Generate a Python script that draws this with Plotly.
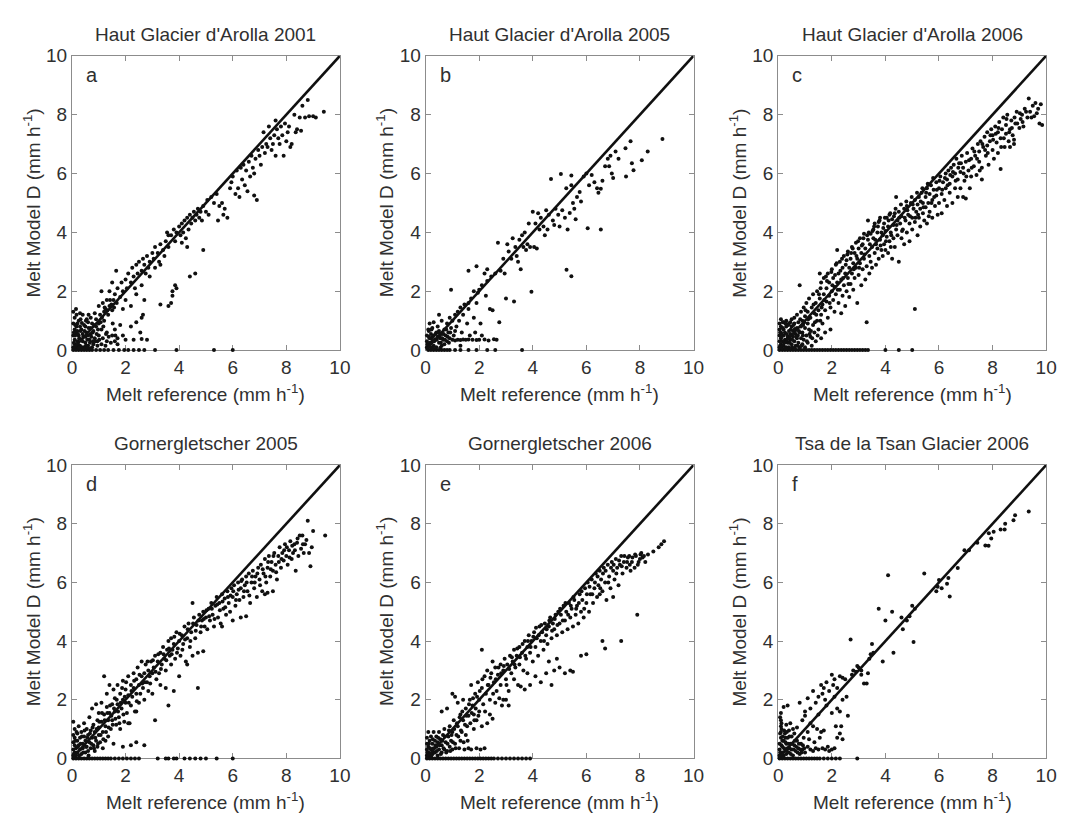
import plotly.graph_objects as go

# ---------------- data (Melt reference, Melt Model D) ----------------
TITLES = ["Haut Glacier d'Arolla 2001", "Haut Glacier d'Arolla 2005", "Haut Glacier d'Arolla 2006",
          "Gornergletscher 2005", "Gornergletscher 2006", "Tsa de la Tsan Glacier 2006"]
LETTERS = ["a", "b", "c", "d", "e", "f"]
TICKS = [0, 2, 4, 6, 8, 10]
ONE_TO_ONE = [0, 10]

a_zero_x = [0.05, 0.15, 0.25, 0.35, 0.45, 0.55, 0.65, 0.75, 0.9, 1.05, 1.2, 1.35, 1.55, 1.75, 1.95,
            2.1, 2.3, 2.5, 2.7, 3.1, 3.9, 5.3, 6.0]
a_pts = [
    (0.05, 0.1), (0.1, 0.2), (0.1, 0.35), (0.05, 0.5), (0.1, 0.7), (0.05, 0.9), (0.1, 1.1), (0.05, 1.3),
    (0.15, 1.4), (0.2, 0.1), (0.2, 0.3), (0.25, 0.5), (0.2, 0.65), (0.3, 0.8), (0.25, 1.0), (0.3, 0.15),
    (0.35, 0.35), (0.4, 0.55), (0.35, 0.7), (0.4, 1.2), (0.45, 0.1), (0.5, 0.25), (0.5, 0.45), (0.55, 0.6),
    (0.5, 0.8), (0.6, 0.95), (0.6, 0.15), (0.65, 0.35), (0.7, 0.55), (0.7, 0.75), (0.75, 0.9), (0.8, 0.2),
    (0.85, 0.4), (0.8, 0.65), (0.9, 0.8), (0.9, 1.05), (0.95, 0.3), (1.0, 0.5), (1.0, 0.9), (1.05, 1.2),
    (1.1, 0.2), (1.15, 0.4), (1.2, 1.0), (1.2, 1.3), (1.3, 0.3), (1.35, 1.2), (1.4, 1.5), (1.45, 0.25),
    (1.5, 1.35), (1.6, 0.3), (1.55, 1.7), (1.7, 0.2), (0.15, 0.05), (0.3, 0.05), (0.4, 0.3), (0.6, 0.5),
    (0.15, 0.6), (0.3, 1.25), (0.7, 1.1), (0.85, 1.25), (1.0, 1.5), (0.55, 1.05), (0.2, 0.9), (0.45, 0.85),
    (1.25, 0.15), (0.95, 0.15), (0.75, 0.1),
    (1.6, 1.9), (1.7, 2.1), (1.8, 1.8), (1.85, 2.3), (1.9, 2.0), (2.0, 2.4), (2.05, 2.1), (2.1, 2.6),
    (2.2, 2.3), (2.25, 2.8), (2.3, 2.5), (2.4, 2.9), (2.45, 2.6), (2.5, 3.0), (2.6, 2.7), (2.65, 3.1),
    (2.7, 2.9), (2.8, 3.2), (2.85, 2.8), (2.9, 3.0), (3.0, 3.3), (3.05, 3.1), (3.1, 3.5), (3.2, 3.3),
    (3.25, 3.0), (3.3, 3.6), (3.4, 3.4), (3.5, 3.7), (3.45, 3.2), (3.6, 3.9), (3.55, 4.0), (1.3, 1.7),
    (1.4, 2.0), (1.5, 2.3), (1.65, 2.7), (1.15, 1.6), (1.1, 2.0), (1.25, 1.4), (2.0, 1.7), (2.2, 1.5),
    (2.4, 1.9), (2.6, 2.2), (2.35, 2.1), (2.75, 2.6), (1.9, 1.4), (2.7, 1.7), (2.9, 2.5), (3.1, 2.8),
    (3.3, 2.9), (1.8, 0.85), (2.2, 0.8), (2.4, 0.95), (2.6, 1.1), (2.55, 0.6), (2.0, 0.35), (2.3, 0.35),
    (2.6, 0.38), (2.8, 0.35), (1.7, 0.4), (1.5, 0.5), (1.9, 0.5), (1.3, 0.6), (1.6, 0.7), (1.1, 0.7),
    (3.7, 3.9), (3.8, 4.1), (3.85, 3.7), (3.9, 4.0), (4.0, 4.2), (4.05, 3.9), (4.1, 4.3), (4.15, 4.0),
    (4.2, 4.4), (4.25, 3.8), (4.3, 4.5), (4.35, 4.1), (4.4, 4.6), (4.45, 4.3), (4.5, 4.5), (4.55, 4.7),
    (4.6, 4.4), (4.65, 4.6), (4.7, 4.8), (4.75, 4.5), (4.8, 4.7), (4.85, 4.4), (4.9, 4.9), (5.0, 4.7),
    (5.05, 5.1), (5.1, 4.6), (5.2, 5.2), (5.3, 5.0), (5.4, 5.3), (5.5, 4.9), (5.6, 5.0), (5.7, 4.8),
    (5.8, 4.5), (5.65, 4.6), (5.45, 4.4), (5.9, 5.5), (4.3, 3.5), (4.1, 3.65), (3.6, 3.5), (4.9, 3.4),
    (4.4, 2.5), (4.6, 2.6), (3.6, 1.5), (3.7, 1.6), (3.75, 1.85), (3.9, 2.1), (3.75, 2.0), (3.85, 2.2),
    (3.3, 1.55), (2.65, 1.2),
    (6.0, 5.9), (6.1, 5.3), (6.15, 6.1), (6.2, 5.5), (6.3, 6.2), (6.35, 5.8), (6.4, 6.3), (6.45, 5.6),
    (6.5, 6.1), (6.55, 5.4), (6.6, 6.4), (6.65, 5.9), (6.7, 6.6), (6.75, 6.2), (6.8, 6.0), (6.85, 6.5),
    (6.9, 5.1), (6.8, 5.25), (6.95, 6.8), (7.0, 6.6), (7.05, 6.3), (7.1, 6.9), (7.2, 6.7), (7.25, 7.0),
    (7.3, 6.9), (7.4, 7.2), (7.45, 6.8), (7.5, 7.0), (7.55, 7.3), (7.6, 6.6), (7.65, 7.5), (7.7, 7.2),
    (7.75, 7.0), (7.8, 7.6), (7.85, 7.3), (7.9, 6.6), (7.95, 7.7), (8.0, 7.1), (8.05, 7.4), (8.1, 7.6),
    (8.15, 6.9), (8.2, 7.0), (8.3, 8.0), (8.35, 7.4), (8.4, 7.5), (8.5, 7.9), (8.55, 7.45), (8.6, 8.3),
    (8.7, 7.9), (8.8, 8.5), (8.85, 7.95), (9.0, 7.95), (9.1, 7.9), (9.4, 8.1), (7.35, 7.6), (7.6, 7.8),
    (5.95, 5.7), (6.25, 5.2), (7.15, 7.4),
]
a_core = [
    (0.07, 0.25), (0.12, 0.5), (0.17, 0.8), (0.22, 0.2), (0.27, 0.4), (0.32, 0.65), (0.37, 0.1),
    (0.42, 0.45), (0.47, 0.65), (0.52, 0.15), (0.57, 0.35), (0.62, 0.75), (0.67, 0.25), (0.72, 0.45),
    (0.77, 0.6), (0.82, 0.85), (0.87, 0.3), (0.92, 0.55), (0.97, 0.7), (1.02, 0.35), (1.07, 0.95),
    (1.12, 1.1), (1.17, 0.8), (1.22, 1.45), (1.27, 0.55), (1.32, 1.35), (1.37, 0.45), (1.42, 1.7),
    (1.47, 1.55), (1.52, 0.9), (1.57, 1.45), (1.62, 0.5), (1.67, 1.6), (0.07, 0.6), (0.12, 0.85),
    (0.17, 1.2), (0.32, 1.05), (0.42, 0.05), (0.52, 1.0), (0.62, 1.2), (0.08, 0.05), (0.25, 0.08),
    (0.48, 0.05), (0.58, 0.08), (0.68, 0.05), (0.22, 0.55), (0.37, 0.92), (0.78, 0.3),
]

b_zero_x = [0.1, 0.2, 0.3, 0.4, 0.5, 0.6, 0.7, 0.8, 0.9, 1.1, 1.3, 1.6, 1.9, 2.3, 2.6, 3.6]
b_pts = [
    (0.05, 0.1), (0.05, 0.3), (0.05, 0.5), (0.1, 0.7), (0.1, 0.2), (0.15, 0.4), (0.15, 0.9), (0.2, 0.1),
    (0.2, 0.55), (0.25, 0.3), (0.25, 0.75), (0.3, 0.15), (0.3, 0.5), (0.3, 0.95), (0.35, 0.35), (0.4, 0.6),
    (0.4, 0.1), (0.45, 0.45), (0.45, 0.8), (0.5, 0.25), (0.5, 0.65), (0.55, 0.4), (0.6, 0.15), (0.6, 0.55),
    (0.6, 1.0), (0.65, 0.35), (0.7, 0.7), (0.7, 0.2), (0.75, 0.5), (0.8, 0.9), (0.8, 0.3), (0.85, 0.6),
    (0.9, 0.4), (0.9, 1.1), (0.95, 2.05), (0.95, 0.75), (1.0, 0.35), (1.0, 1.0), (1.05, 0.5), (1.1, 1.2),
    (1.1, 0.33), (1.15, 0.8), (1.2, 1.3), (1.2, 0.35), (1.25, 1.0), (1.3, 1.45), (1.3, 0.34), (1.35, 0.6),
    (1.4, 1.2), (1.4, 0.36), (1.45, 1.55), (1.5, 0.35), (1.55, 0.9), (1.6, 1.6), (1.6, 0.36), (1.65, 0.5),
    (1.7, 1.75), (1.75, 0.35), (1.8, 2.0), (1.8, 1.1), (1.85, 0.6), (1.9, 0.34), (1.95, 1.95), (2.0, 2.05),
    (2.0, 0.35), (2.05, 0.9), (2.1, 2.2), (2.1, 0.5), (2.2, 0.36), (2.25, 1.85), (2.3, 2.35), (2.35, 0.33),
    (2.4, 1.4), (2.45, 2.5), (2.5, 1.35), (2.55, 0.37), (2.6, 2.6), (2.65, 0.35), (1.1, 0.65), (1.3, 0.15),
    (1.6, 1.4), (1.9, 1.6), (0.5, 1.2),
    (1.6, 2.7), (1.9, 2.85), (2.2, 2.6), (2.3, 2.75), (2.7, 3.65), (2.8, 2.7), (2.9, 3.1), (2.95, 2.6),
    (2.75, 0.95), (3.0, 1.75), (3.05, 3.6), (3.1, 3.35), (3.2, 3.1), (3.25, 3.8), (3.3, 1.65), (3.35, 3.5),
    (3.4, 3.2), (3.45, 3.0), (3.5, 3.75), (3.55, 2.75), (3.6, 3.9), (3.65, 3.5), (3.7, 4.0), (3.75, 3.4),
    (3.8, 3.6), (3.85, 4.3), (3.9, 3.5), (3.95, 1.98), (4.0, 4.7), (4.05, 3.5), (4.1, 4.3), (4.15, 3.45),
    (4.2, 4.65), (4.25, 4.1), (4.3, 4.5), (4.4, 4.2), (4.45, 3.9), (4.5, 4.75), (4.55, 4.1), (4.6, 4.6),
    (4.68, 5.81), (4.75, 4.4), (4.8, 4.25), (4.85, 4.8), (4.95, 4.6), (5.0, 4.2), (5.05, 5.98), (5.1, 4.75),
    (5.2, 4.5), (5.25, 5.5), (5.3, 4.1), (5.26, 2.73), (5.44, 2.51), (5.38, 4.66), (5.44, 5.93), (5.44, 5.6),
    (5.5, 5.0), (5.55, 4.8), (5.6, 4.45), (5.65, 5.2), (5.75, 5.37), (5.8, 5.05), (5.9, 5.9), (6.0, 6.0),
    (6.05, 4.14), (6.1, 5.6), (6.2, 5.95), (6.3, 5.7), (6.4, 5.5), (6.45, 5.35), (6.54, 5.48), (6.54, 4.1),
    (6.6, 5.75), (6.7, 6.25), (6.8, 6.5), (6.85, 6.25), (6.9, 6.6), (6.95, 6.0), (7.0, 5.85), (7.09, 6.75),
    (7.2, 6.5), (7.46, 6.86), (7.48, 5.9), (7.65, 7.1), (7.7, 6.35), (7.76, 6.11), (8.07, 6.45), (8.29, 6.75),
    (8.84, 7.17),
]
b_core = [
    (0.07, 0.2), (0.12, 0.45), (0.17, 0.25), (0.22, 0.7), (0.27, 0.45), (0.32, 0.3), (0.37, 0.55),
    (0.42, 0.35), (0.47, 0.6), (0.52, 0.45), (0.57, 0.25), (0.62, 0.4), (0.67, 0.55), (0.72, 0.35),
    (0.77, 0.7), (0.82, 0.45), (0.87, 0.25), (0.92, 0.6), (0.12, 0.65), (0.22, 0.4), (0.08, 0.05),
    (0.28, 0.05), (0.55, 0.08),
]

c_zero_x = [0.05, 0.15, 0.25, 0.35, 0.45, 0.55, 0.65, 0.75, 0.85, 0.95, 1.05, 1.15, 1.25, 1.35, 1.45,
            1.55, 1.65, 1.75, 1.85, 1.95, 2.05, 2.15, 2.25, 2.35, 2.45, 2.55, 2.65, 2.75, 2.85, 2.95,
            3.05, 3.15, 3.25, 3.35, 4.0, 4.5, 5.0]
c_pts = [
    (0.05, 0.1), (0.05, 0.3), (0.05, 0.5), (0.05, 0.7), (0.05, 0.9), (0.1, 1.05), (0.1, 0.2), (0.1, 0.4),
    (0.1, 0.6), (0.1, 0.8), (0.15, 0.05), (0.15, 0.3), (0.2, 0.15), (0.2, 0.5), (0.2, 0.7), (0.2, 0.95),
    (0.25, 0.35), (0.25, 0.6), (0.3, 0.1), (0.3, 0.8), (0.3, 1.0), (0.35, 0.25), (0.35, 0.45), (0.4, 0.65),
    (0.4, 0.9), (0.4, 0.1), (0.45, 0.35), (0.45, 0.55), (0.5, 0.2), (0.5, 0.8), (0.5, 1.05),
    (0.55, 0.05), (0.55, 0.45), (0.55, 0.65), (0.6, 0.3), (0.6, 0.9), (0.6, 1.1), (0.65, 0.15), (0.65, 0.55),
    (0.7, 0.75), (0.7, 0.4), (0.7, 1.2), (0.75, 0.25), (0.75, 0.95), (0.8, 0.6), (0.8, 0.1), (0.8, 2.2),
    (0.85, 0.4), (0.85, 0.8), (0.85, 1.3), (0.9, 0.2), (0.9, 1.0), (0.9, 0.6), (0.95, 1.45), (0.95, 0.35),
    (1.0, 0.75), (1.0, 1.15), (1.0, 0.1),
    (1.05, 0.5), (1.05, 1.6), (1.1, 0.9), (1.1, 1.3), (1.1, 0.25), (1.15, 0.7), (1.15, 1.75), (1.2, 1.1),
    (1.2, 0.45), (1.25, 1.45), (1.25, 0.15), (1.3, 0.85), (1.3, 1.9), (1.35, 1.25), (1.35, 0.6), (1.4, 1.6),
    (1.4, 0.3), (1.45, 1.0), (1.45, 2.0), (1.5, 1.35), (1.5, 0.7), (1.55, 1.75), (1.55, 2.6), (1.6, 1.2),
    (1.6, 0.4), (1.6, 2.3), (1.65, 1.55), (1.65, 0.9),
    (1.7, 1.9), (1.7, 2.45), (1.75, 1.35), (1.75, 0.6), (1.8, 2.1), (1.8, 1.65), (1.85, 2.6), (1.85, 1.1),
    (1.9, 1.85), (1.9, 2.3), (1.95, 1.45), (1.95, 0.7), (2.0, 2.0), (2.0, 2.75), (2.05, 1.7), (2.05, 2.45),
    (2.1, 2.15), (2.1, 1.3), (2.15, 2.9), (2.15, 1.9), (2.2, 2.3), (2.2, 3.4), (2.25, 1.6), (2.25, 2.6),
    (2.3, 2.05), (2.3, 3.0), (2.35, 2.4), (2.35, 1.25), (2.4, 2.8), (2.4, 1.85), (2.45, 3.2), (2.45, 2.2),
    (2.5, 2.6), (2.5, 1.5),
    (2.55, 3.05), (2.55, 2.0), (2.6, 2.45), (2.6, 3.35), (2.65, 2.8), (2.65, 1.8), (2.7, 3.1), (2.7, 2.25),
    (2.75, 3.5), (2.75, 2.6), (2.8, 2.95), (2.8, 2.05), (2.85, 3.3), (2.85, 2.45), (2.9, 3.65), (2.9, 2.8),
    (2.95, 3.1), (2.95, 1.6), (3.0, 3.45), (3.0, 2.55), (3.05, 2.95), (3.05, 3.8), (3.1, 3.3), (3.1, 2.2),
    (3.15, 3.6), (3.15, 2.75), (3.2, 3.1), (3.2, 3.95), (3.25, 2.4), (3.25, 3.45), (3.3, 2.85), (3.3, 0.95),
    (3.35, 3.75), (3.35, 4.4), (3.4, 3.2), (3.4, 2.6), (3.45, 3.95), (3.45, 3.0), (3.5, 3.5), (3.5, 2.8),
    (3.55, 3.8), (3.55, 4.1), (3.6, 3.3), (3.6, 4.3), (3.65, 3.6), (3.65, 2.9), (3.7, 4.0), (3.7, 3.45),
    (3.75, 4.35), (3.75, 3.1), (3.8, 3.75), (3.8, 4.5), (3.85, 3.4), (3.85, 4.0), (3.9, 3.9), (3.9, 3.2),
    (3.95, 4.3), (3.95, 3.6), (4.0, 4.05), (4.0, 3.4), (4.05, 4.5), (4.05, 3.85), (4.1, 3.3), (4.1, 4.2),
    (4.15, 4.6), (4.15, 3.7), (4.2, 4.0), (4.2, 3.5), (4.25, 4.45), (4.25, 3.1), (4.3, 4.25), (4.3, 3.8),
    (4.35, 4.65), (4.35, 3.5), (4.4, 4.1), (4.4, 5.2), (4.45, 4.4), (4.45, 3.9), (4.5, 3.0), (4.5, 4.7),
    (4.55, 4.3), (4.6, 3.8), (4.6, 4.55), (4.65, 4.1), (4.7, 4.8), (4.7, 3.6), (4.75, 4.4), (4.8, 4.0),
    (4.8, 4.9), (4.85, 4.6), (4.9, 3.7), (4.9, 4.3), (4.95, 5.0), (5.0, 4.5), (5.0, 4.1), (5.05, 4.8),
    (5.1, 1.4), (5.1, 5.1), (5.1, 4.35), (5.15, 4.7), (5.2, 3.9), (5.2, 4.95), (5.25, 5.2), (5.25, 4.5),
    (5.3, 4.8), (5.3, 4.2), (5.35, 5.35), (5.4, 4.65), (5.4, 5.0), (5.45, 4.4), (5.5, 5.2), (5.5, 4.85),
    (5.55, 4.3), (5.55, 5.5), (5.6, 5.0), (5.65, 4.7), (5.65, 5.3), (5.7, 5.6), (5.75, 4.5), (5.75, 5.1),
    (5.8, 5.45), (5.85, 4.9), (5.9, 5.7), (5.9, 5.25), (5.95, 4.6), (6.0, 5.5), (6.0, 5.0), (6.05, 5.9),
    (6.1, 5.3), (6.1, 4.65), (6.15, 5.7), (6.2, 5.1), (6.25, 6.0), (6.25, 5.5), (6.3, 4.9), (6.3, 5.8),
    (6.35, 6.1), (6.4, 5.35), (6.4, 5.65), (6.45, 6.2), (6.5, 5.0), (6.5, 5.9),
    (6.55, 6.3), (6.6, 5.5), (6.6, 6.0), (6.65, 6.5), (6.7, 5.2), (6.7, 5.8), (6.75, 6.35), (6.8, 6.05),
    (6.8, 5.5), (6.85, 6.6), (6.9, 6.2), (6.9, 5.2), (6.95, 5.75), (7.0, 6.4), (7.0, 5.15), (7.05, 6.7),
    (7.1, 6.1), (7.15, 5.5), (7.2, 6.5), (7.2, 5.9), (7.25, 6.85), (7.3, 6.25), (7.35, 6.6), (7.4, 5.95),
    (7.45, 7.0), (7.5, 6.4), (7.5, 6.75),
    (7.55, 7.1), (7.6, 6.2), (7.6, 5.8), (7.65, 6.9), (7.7, 7.25), (7.75, 6.6), (7.8, 7.4), (7.8, 6.95),
    (7.85, 6.3), (7.9, 7.1), (7.95, 7.5), (8.0, 6.8), (8.0, 7.3), (8.05, 6.5), (8.1, 7.6), (8.15, 7.05),
    (8.2, 7.4), (8.2, 6.7), (8.25, 7.75), (8.3, 7.2), (8.3, 6.15), (8.35, 7.5), (8.4, 7.9), (8.45, 6.9),
    (8.5, 7.35), (8.5, 7.65),
    (8.55, 8.0), (8.6, 7.1), (8.65, 7.5), (8.7, 7.8), (8.75, 7.3), (8.8, 7.0), (8.85, 7.7), (8.9, 8.1),
    (9.0, 7.55), (9.05, 7.85), (9.1, 8.0), (9.15, 7.6), (9.2, 8.2), (9.3, 7.9), (9.35, 8.55), (9.4, 8.1),
    (9.5, 8.3), (9.55, 7.95), (9.6, 8.4), (9.7, 8.2), (9.75, 7.7), (9.8, 8.35), (9.85, 7.65), (8.65, 6.9),
    (8.8, 7.15),
]
c_core = [
    (0.12, 0.55), (0.27, 0.9), (0.38, 0.45), (0.52, 0.35), (0.62, 0.72), (0.73, 0.5), (0.82, 1.05),
    (0.93, 0.85), (1.02, 1.35), (1.12, 1.05), (1.22, 0.65), (1.32, 1.55), (1.42, 1.2), (1.52, 1.9),
    (1.62, 1.45), (1.72, 1.7), (1.82, 2.35), (1.92, 1.6), (2.02, 2.2), (2.12, 2.55), (2.22, 2.05),
    (2.32, 2.7), (2.42, 2.45), (2.52, 2.9), (2.62, 2.25), (2.72, 3.3), (2.82, 2.75), (2.92, 3.2),
    (3.02, 2.8), (3.12, 3.55), (3.22, 3.25), (3.32, 3.9), (3.42, 3.6), (3.52, 4.05), (3.62, 3.75),
    (3.72, 4.2), (3.82, 3.55), (3.92, 4.15), (4.02, 3.7), (4.12, 4.4), (4.22, 3.9), (4.32, 4.55),
    (4.42, 4.25), (4.52, 4.5), (4.62, 4.05), (4.72, 4.5), (4.82, 4.75), (4.92, 4.55), (5.02, 4.95),
    (5.12, 4.5), (5.22, 4.6), (5.32, 5.05), (5.42, 4.85), (5.52, 5.35), (5.62, 4.55), (5.72, 5.0),
    (5.82, 5.2), (5.92, 5.45), (6.02, 5.75), (6.12, 5.45), (6.22, 5.85), (6.32, 5.6), (6.42, 5.95),
    (6.52, 6.05), (6.62, 5.75), (6.72, 6.2), (6.82, 6.35), (6.92, 6.0), (7.02, 5.9), (7.12, 6.45),
    (7.22, 6.2), (7.32, 6.75), (7.42, 6.5), (7.52, 6.1), (7.62, 7.0), (7.72, 6.8), (7.82, 6.7),
    (7.92, 7.3), (8.02, 7.15), (8.12, 7.35), (8.22, 7.55), (8.32, 6.9), (8.42, 7.2), (8.52, 7.85),
    (8.62, 7.4), (8.72, 7.55), (8.82, 7.9), (8.92, 7.7), (9.02, 8.05), (9.12, 7.75), (9.25, 8.1),
    (9.45, 7.9), (9.65, 8.05),
    (1.58, 2.1), (1.78, 2.5), (1.98, 2.65), (2.18, 2.95), (2.38, 3.1), (2.58, 3.25), (2.78, 3.45),
    (2.98, 3.7), (3.18, 3.8), (3.38, 4.0), (3.58, 4.2), (3.78, 4.4), (3.98, 4.5), (4.18, 4.65),
    (4.38, 4.8), (4.58, 4.95), (4.78, 5.05), (4.98, 5.2), (5.18, 5.35), (5.38, 5.5), (5.58, 5.65),
    (5.78, 5.85),
    (0.07, 0.15), (0.12, 0.45), (0.17, 0.75), (0.22, 0.25), (0.27, 0.05), (0.32, 0.55), (0.37, 0.85),
    (0.42, 0.25), (0.47, 0.7), (0.52, 0.1), (0.57, 0.85), (0.62, 0.05), (0.67, 0.45), (0.72, 0.15),
    (0.77, 0.65), (0.87, 0.15), (0.92, 0.5), (0.97, 0.95), (1.07, 0.3), (1.17, 0.55), (1.27, 0.4),
    (1.37, 0.95), (1.47, 0.5), (1.57, 1.0), (0.07, 0.6), (0.17, 0.95), (0.32, 0.35), (0.45, 0.95),
]

d_zero_x = [0.05, 0.15, 0.25, 0.35, 0.45, 0.55, 0.65, 0.75, 0.85, 0.95, 1.05, 1.15, 1.25, 1.35, 1.45,
            1.6, 1.75, 1.9, 2.05, 2.2, 2.35, 2.5, 3.2, 3.5, 3.6, 3.8, 3.9, 4.2, 4.4, 4.6, 4.8, 5.0, 5.4, 6.0]
d_pts = [
    (0.05, 0.1), (0.05, 0.3), (0.05, 0.55), (0.05, 0.8), (0.05, 1.25), (0.1, 0.2), (0.1, 0.45), (0.1, 0.7),
    (0.1, 1.0), (0.15, 0.1), (0.15, 0.35), (0.2, 0.6), (0.2, 0.85), (0.2, 0.2), (0.25, 0.45), (0.25, 1.1),
    (0.3, 0.3), (0.3, 0.7), (0.35, 0.15), (0.35, 0.9), (0.4, 0.5), (0.4, 0.35), (0.45, 0.75), (0.45, 1.2),
    (0.5, 0.2), (0.5, 0.6), (0.55, 0.4), (0.55, 1.0), (0.6, 0.8), (0.6, 0.25), (0.65, 0.55), (0.65, 1.4),
    (0.7, 0.35), (0.7, 0.95), (0.75, 0.7), (0.75, 1.7), (0.8, 0.45), (0.8, 1.15), (0.85, 0.25), (0.85, 0.9),
    (0.9, 1.85), (0.9, 0.6), (0.95, 1.3), (0.95, 0.4), (1.0, 0.8), (1.0, 1.55), (1.0, 1.05),
    (1.05, 0.55), (1.1, 1.25), (1.1, 1.9), (1.15, 0.9), (1.15, 0.35), (1.2, 2.8), (1.2, 1.5), (1.25, 1.1),
    (1.25, 0.6), (1.3, 1.75), (1.3, 2.2), (1.35, 1.3), (1.35, 0.75), (1.4, 1.55), (1.4, 2.5), (1.45, 1.0),
    (1.5, 1.85), (1.5, 1.3), (1.55, 2.35), (1.55, 0.5), (1.6, 1.6), (1.6, 2.05), (1.65, 1.15), (1.7, 1.85),
    (1.7, 2.5), (1.75, 1.4), (1.8, 2.2), (1.8, 1.0), (1.85, 1.7), (1.9, 2.0), (1.9, 2.65), (1.95, 1.25),
    (2.0, 1.9), (2.0, 2.35), (1.9, 0.4), (2.2, 0.45), (2.4, 0.55), (2.7, 0.45), (2.1, 1.2), (2.4, 1.6),
    (2.05, 1.55), (2.1, 2.15), (2.1, 2.8), (2.15, 1.2), (2.2, 2.5), (2.2, 1.8), (2.25, 2.1), (2.3, 2.9),
    (2.3, 2.4), (2.35, 1.6), (2.4, 2.2), (2.4, 2.7), (2.45, 3.1), (2.5, 2.5), (2.5, 1.9), (2.55, 2.2),
    (2.6, 2.8), (2.6, 3.3), (2.65, 2.4), (2.7, 2.9), (2.7, 2.0), (2.75, 3.2), (2.8, 2.6), (2.85, 3.0),
    (2.85, 2.3), (2.9, 2.8), (2.95, 3.3), (3.0, 2.9), (3.0, 2.2),
    (3.05, 3.1), (3.1, 3.5), (3.1, 1.3), (3.15, 2.7), (3.2, 3.3), (3.25, 2.9), (3.3, 3.6), (3.3, 2.5),
    (3.35, 3.2), (3.4, 3.8), (3.45, 3.4), (3.5, 2.4), (3.5, 3.0), (3.55, 3.7), (3.6, 4.0), (3.6, 1.8),
    (3.65, 3.5), (3.7, 3.2), (3.7, 4.1), (3.75, 3.7), (3.8, 2.3), (3.8, 3.9), (3.85, 3.4), (3.9, 4.3),
    (3.95, 3.75), (4.0, 4.0), (4.0, 2.8),
    (4.05, 3.5), (4.1, 4.2), (4.15, 3.9), (4.2, 4.5), (4.25, 3.3), (4.3, 4.1), (4.3, 3.2), (4.35, 4.6),
    (4.4, 3.8), (4.45, 4.3), (4.5, 5.3), (4.5, 3.5), (4.55, 4.8), (4.6, 4.1), (4.65, 4.55), (4.7, 3.6),
    (4.7, 2.4), (4.75, 4.9), (4.8, 4.3), (4.85, 4.7), (4.9, 3.65), (4.9, 5.0), (4.95, 4.5), (5.0, 4.8),
    (5.05, 4.4), (5.1, 5.1), (5.15, 4.7), (5.2, 5.3), (5.25, 4.9), (5.3, 4.5), (5.35, 5.2), (5.4, 5.5),
    (5.45, 4.8), (5.5, 5.3), (5.55, 4.6), (5.6, 5.6), (5.6, 4.5), (5.65, 5.1), (5.7, 5.45), (5.75, 4.9),
    (5.8, 5.7), (5.85, 5.3), (5.9, 5.0), (5.95, 5.8), (6.0, 4.7), (6.0, 5.5),
    (6.05, 5.9), (6.1, 5.2), (6.15, 5.6), (6.2, 6.0), (6.25, 5.4), (6.3, 4.8), (6.3, 5.8), (6.35, 6.1),
    (6.4, 5.5), (6.45, 5.9), (6.5, 4.85), (6.5, 6.2), (6.55, 5.7), (6.6, 6.3), (6.65, 5.3), (6.7, 6.0),
    (6.75, 6.4), (6.8, 5.8), (6.85, 6.2), (6.9, 5.5), (6.95, 6.5), (7.0, 6.1),
    (7.05, 6.6), (7.1, 5.7), (7.15, 6.3), (7.2, 5.6), (7.2, 6.8), (7.25, 6.0), (7.3, 5.65), (7.3, 6.5),
    (7.35, 6.9), (7.4, 6.2), (7.45, 6.7), (7.5, 5.7), (7.5, 6.4), (7.55, 7.0), (7.6, 6.6), (7.65, 6.1),
    (7.7, 6.9), (7.75, 7.2), (7.8, 6.5), (7.85, 7.0), (7.9, 6.75), (7.95, 7.3), (8.0, 6.9),
    (8.05, 6.6), (8.1, 7.1), (8.15, 7.4), (8.2, 6.8), (8.25, 7.0), (8.3, 7.3), (8.35, 6.4), (8.4, 7.35),
    (8.45, 6.9), (8.5, 7.6), (8.55, 7.15), (8.6, 7.6), (8.65, 7.0), (8.7, 7.3), (8.8, 8.1), (8.85, 7.0),
    (8.9, 6.55), (8.95, 7.2), (9.0, 7.75), (9.45, 7.6),
]
d_core = [
    (0.07, 0.15), (0.12, 0.6), (0.17, 0.9), (0.22, 0.4), (0.27, 0.1), (0.32, 0.5), (0.37, 0.75),
    (0.42, 0.2), (0.47, 0.95), (0.52, 0.4), (0.57, 0.7), (0.62, 0.1), (0.67, 0.85), (0.72, 0.5),
    (0.77, 1.05), (0.82, 0.35), (0.87, 0.7), (0.92, 1.0), (0.97, 0.5), (1.02, 1.25), (1.07, 0.8),
    (1.12, 1.55), (1.17, 0.65), (1.22, 1.3), (1.27, 0.9), (1.32, 1.55), (1.37, 1.05), (1.42, 1.8),
    (1.47, 1.45), (1.52, 1.15), (1.57, 1.7), (1.62, 1.35), (1.67, 2.0), (1.72, 1.6), (1.77, 1.2),
    (1.82, 1.9), (1.87, 2.4), (1.92, 1.5), (1.97, 2.1),
    (2.02, 2.6), (2.12, 1.9), (2.22, 2.3), (2.32, 2.65), (2.42, 1.95), (2.52, 2.85), (2.62, 2.55),
    (2.72, 2.6), (2.82, 3.3), (2.92, 2.55), (3.02, 3.35), (3.12, 2.95), (3.22, 3.55), (3.32, 3.05),
    (3.42, 3.55), (3.52, 3.35), (3.62, 3.75), (3.72, 3.55), (3.82, 4.15), (3.92, 3.6), (4.02, 4.25),
    (4.12, 3.7), (4.22, 4.05), (4.32, 4.4), (4.42, 4.0), (4.52, 4.6), (4.62, 4.35), (4.72, 4.7),
    (4.82, 4.5), (4.92, 4.75), (5.02, 5.05), (5.12, 4.85), (5.22, 5.1), (5.32, 4.75), (5.42, 5.25),
    (5.52, 5.05), (5.62, 5.35), (5.72, 5.15), (5.82, 5.5), (5.92, 5.55), (6.02, 5.7), (6.12, 5.4),
    (6.22, 5.75), (6.32, 6.05), (6.42, 5.7), (6.52, 6.0), (6.62, 5.55), (6.72, 6.2), (6.82, 6.0),
    (6.92, 6.3), (7.02, 5.9), (7.12, 6.45), (7.22, 6.2), (7.32, 6.7), (7.42, 6.45), (7.52, 6.9),
    (7.62, 6.35), (7.72, 6.7), (7.82, 6.8), (7.92, 7.1), (8.02, 7.2), (8.12, 6.85), (8.22, 7.25),
    (8.32, 7.1), (8.42, 7.5), (8.62, 7.3), (8.75, 7.45),
]

e_zero_x = [0.05, 0.15, 0.25, 0.35, 0.45, 0.55, 0.65, 0.75, 0.85, 0.95, 1.05, 1.15, 1.25, 1.35, 1.45,
            1.55, 1.65, 1.75, 1.85, 1.95, 2.05, 2.15, 2.25, 2.35, 2.45, 2.55, 2.7, 2.85, 3.0, 3.15, 3.3,
            3.45, 3.6, 3.75, 3.9]
e_pts = [
    (0.05, 0.1), (0.05, 0.3), (0.05, 0.5), (0.05, 0.7), (0.1, 0.9), (0.1, 0.2), (0.1, 0.4), (0.15, 0.6),
    (0.15, 0.1), (0.2, 0.3), (0.2, 0.75), (0.25, 0.5), (0.25, 0.15), (0.3, 0.35), (0.3, 0.9), (0.35, 0.6),
    (0.35, 0.2), (0.4, 0.4), (0.4, 0.75), (0.45, 0.1), (0.45, 0.55), (0.5, 0.3), (0.5, 0.9), (0.55, 0.65),
    (0.6, 0.2), (0.6, 0.45), (0.6, 1.6), (0.65, 0.8), (0.7, 0.3), (0.7, 1.0), (0.75, 0.55), (0.8, 1.7),
    (0.8, 0.25), (0.85, 0.75), (0.9, 1.1), (0.9, 0.4), (0.95, 0.6), (1.0, 2.2), (1.0, 0.9), (1.0, 0.3),
    (1.05, 1.3), (1.1, 2.1), (1.1, 0.5), (1.15, 0.8), (1.2, 1.9), (1.2, 1.1), (1.25, 0.35), (1.3, 1.5),
    (1.3, 0.6), (1.35, 0.9), (1.4, 2.0), (1.4, 1.3), (1.45, 0.3), (1.5, 1.7), (1.5, 0.8), (1.55, 1.1),
    (1.6, 0.35), (1.6, 1.45), (1.65, 2.0), (1.7, 2.5), (1.7, 0.3), (1.75, 1.8), (1.8, 1.0), (1.8, 1.5),
    (1.85, 2.2), (1.9, 0.35), (1.9, 1.3), (1.95, 2.6), (2.0, 1.6), (2.0, 2.0), (2.05, 0.3), (2.1, 1.1),
    (2.1, 2.4), (2.1, 3.7), (2.15, 1.85), (2.2, 2.8), (2.2, 0.35), (2.25, 2.2), (2.3, 1.2), (2.3, 3.0),
    (2.35, 2.5), (2.4, 1.5), (2.4, 2.0), (2.45, 2.9), (2.5, 3.3), (2.5, 1.35), (2.55, 2.6), (2.6, 1.9),
    (2.6, 3.1), (2.65, 2.3), (2.7, 2.85), (2.75, 2.05), (2.8, 3.2), (2.8, 2.5), (2.85, 1.8), (2.9, 3.0),
    (2.9, 2.0), (2.95, 3.4), (3.0, 2.7), (3.0, 2.0),
    (3.05, 3.2), (3.1, 2.3), (3.1, 1.8), (3.15, 3.5), (3.2, 2.9), (3.25, 3.3), (3.3, 2.7), (3.3, 3.7),
    (3.35, 3.1), (3.4, 3.5), (3.45, 2.5), (3.5, 3.8), (3.5, 3.2), (3.55, 2.45), (3.6, 3.6), (3.65, 3.0),
    (3.7, 4.0), (3.7, 2.35), (3.75, 3.4), (3.8, 3.8), (3.8, 2.9), (3.85, 4.2), (3.9, 3.6), (3.9, 2.5),
    (3.95, 4.0), (4.0, 3.3),
    (4.05, 4.3), (4.1, 3.8), (4.1, 2.8), (4.15, 4.1), (4.2, 3.5), (4.25, 4.5), (4.3, 4.0), (4.3, 2.6),
    (4.35, 4.3), (4.4, 3.7), (4.45, 4.6), (4.5, 4.2), (4.5, 2.9), (4.55, 3.9), (4.6, 4.5), (4.6, 3.3),
    (4.65, 4.8), (4.7, 4.1), (4.7, 2.5), (4.75, 4.6), (4.8, 3.0), (4.8, 4.4), (4.85, 4.9), (4.9, 3.4),
    (4.9, 4.2), (4.95, 5.0), (5.0, 4.6), (5.0, 3.1),
    (5.05, 4.9), (5.1, 4.3), (5.15, 5.2), (5.2, 2.9), (5.2, 4.7), (5.25, 5.0), (5.3, 4.4), (5.35, 5.3),
    (5.4, 3.0), (5.4, 4.8), (5.45, 5.1), (5.5, 4.5), (5.5, 2.95), (5.55, 5.4), (5.6, 4.9), (5.65, 5.2),
    (5.7, 4.6), (5.75, 5.6), (5.8, 3.5), (5.8, 5.0), (5.85, 5.4), (5.9, 4.8), (5.95, 5.8), (6.0, 5.3),
    (6.0, 3.55),
    (6.05, 6.0), (6.1, 5.0), (6.15, 5.6), (6.2, 6.1), (6.25, 5.3), (6.3, 5.8), (6.35, 6.3), (6.4, 5.5),
    (6.45, 5.9), (6.5, 6.4), (6.5, 5.6), (6.55, 6.1), (6.6, 4.0), (6.6, 5.7), (6.65, 6.5), (6.7, 3.75),
    (6.7, 6.0), (6.75, 5.4), (6.8, 6.6), (6.85, 6.2), (6.9, 5.8), (6.95, 6.7), (7.0, 6.4), (7.0, 5.5),
    (7.05, 6.1), (7.1, 6.8), (7.15, 6.5), (7.2, 5.9), (7.25, 6.6), (7.3, 4.0), (7.3, 6.9), (7.35, 6.3),
    (7.4, 6.7), (7.5, 6.5), (7.55, 6.85), (7.6, 6.9), (7.65, 6.4), (7.7, 6.7), (7.8, 6.5), (7.85, 6.9),
    (7.9, 4.9), (7.95, 6.7), (8.0, 6.8), (8.05, 7.0), (8.1, 6.85), (8.2, 6.7), (8.5, 7.05), (8.7, 7.2),
    (8.8, 7.3), (8.9, 7.4),
]
e_core = [
    (0.07, 0.2), (0.12, 0.5), (0.17, 0.35), (0.22, 0.1), (0.27, 0.65), (0.32, 0.2), (0.37, 0.45),
    (0.42, 0.25), (0.47, 0.7), (0.52, 0.45), (0.57, 0.15), (0.62, 0.6), (0.67, 0.35), (0.72, 0.75),
    (0.77, 0.2), (0.82, 0.5), (0.87, 0.95), (0.92, 0.25), (0.97, 0.8), (1.02, 0.55), (1.07, 1.0),
    (1.12, 0.35), (1.17, 1.2), (1.22, 0.75), (1.27, 1.4), (1.32, 0.95), (1.37, 1.6), (1.42, 0.55),
    (1.47, 1.15), (1.52, 1.45), (1.57, 0.6), (1.62, 1.85), (1.67, 1.2), (1.72, 1.55), (1.77, 2.05),
    (1.82, 1.3), (1.87, 1.7), (1.92, 2.1), (1.97, 1.45),
    (2.02, 2.3), (2.12, 2.7), (2.22, 1.6), (2.32, 2.5), (2.42, 2.75), (2.52, 2.2), (2.62, 2.7),
    (2.72, 3.1), (2.82, 2.9), (2.92, 3.15), (3.02, 2.5), (3.12, 3.05), (3.22, 3.45), (3.32, 3.2),
    (3.42, 3.75), (3.52, 3.45), (3.62, 3.9), (3.72, 3.5), (3.82, 4.0), (3.92, 3.8), (4.02, 4.15),
    (4.12, 4.45), (4.22, 4.2), (4.32, 4.55), (4.42, 4.0), (4.52, 4.4), (4.62, 4.7), (4.72, 4.35),
    (4.82, 4.75), (4.92, 4.55), (5.02, 5.1), (5.12, 4.7), (5.22, 5.3), (5.32, 4.9), (5.42, 5.2),
    (5.52, 5.5), (5.62, 5.1), (5.72, 5.3), (5.82, 5.7), (5.92, 5.1), (6.02, 5.6), (6.12, 5.85),
    (6.22, 5.6), (6.32, 6.0), (6.42, 6.2), (6.52, 5.8), (6.62, 6.3), (6.72, 6.4), (6.82, 6.0),
    (6.92, 6.5), (7.02, 6.6), (7.12, 6.3), (7.22, 6.75), (7.32, 6.55), (7.42, 6.9), (7.52, 6.7),
    (7.62, 6.6), (7.72, 6.85), (7.82, 6.95), (7.92, 6.6), (8.02, 6.95), (8.15, 6.9), (8.3, 6.95),
]

f_zero_x = [0.05, 0.15, 0.25, 0.35, 0.45, 0.55, 0.65, 0.75, 0.85, 0.95, 1.05, 1.15, 1.25, 1.35, 1.45,
            1.55, 1.7, 1.85, 2.0, 2.15, 2.3, 2.95]
f_pts = [
    (0.05, 0.1), (0.05, 0.3), (0.05, 0.5), (0.1, 0.7), (0.1, 0.9), (0.1, 1.1), (0.1, 1.3), (0.1, 1.55),
    (0.15, 0.2), (0.15, 0.4), (0.2, 0.6), (0.2, 0.1), (0.25, 0.3), (0.25, 0.85), (0.3, 0.5), (0.3, 0.15),
    (0.35, 0.7), (0.35, 0.35), (0.4, 0.2), (0.4, 0.95), (0.45, 0.5), (0.5, 0.3), (0.5, 0.75), (0.55, 0.1),
    (0.6, 0.45), (0.6, 0.85), (0.65, 0.25), (0.7, 0.6), (0.75, 0.35), (0.8, 0.15), (0.85, 0.5), (0.9, 0.3),
    (1.0, 0.2), (1.1, 0.4), (1.2, 0.3), (1.3, 0.25), (1.4, 0.35), (1.5, 0.3), (1.65, 0.35), (1.75, 0.3),
    (1.85, 0.4), (2.0, 0.3), (2.1, 0.35), (1.9, 0.25), (0.2, 1.75), (0.35, 1.8), (0.3, 1.15), (0.45, 1.2),
    (0.55, 1.0), (0.7, 1.05), (0.9, 1.3), (1.0, 1.6), (0.8, 1.9), (1.1, 2.05), (1.0, 1.45), (1.2, 1.7),
    (1.3, 2.3), (1.4, 1.9), (1.5, 2.1), (1.6, 2.5), (1.65, 2.2), (1.7, 2.4), (1.75, 2.0), (1.8, 2.6),
    (1.9, 2.3), (2.0, 2.85), (2.05, 2.5), (2.1, 2.7), (2.2, 2.4), (2.3, 2.8), (2.4, 2.75), (2.5, 2.7),
    (1.2, 1.2), (1.1, 0.9), (1.5, 1.5), (1.3, 1.1), (1.45, 1.0), (1.6, 0.9), (1.8, 1.8), (2.1, 2.1),
    (2.0, 1.55), (2.2, 1.7), (2.3, 1.6), (2.4, 2.0), (2.55, 2.1), (2.6, 1.45), (2.35, 1.1), (2.15, 1.1),
    (2.2, 0.7), (2.4, 0.65), (2.3, 0.85), (1.55, 0.7), (1.35, 0.55), (0.95, 0.7), (1.15, 0.65), (1.7, 0.95),
    (2.7, 4.05), (2.8, 3.0), (2.9, 2.95), (3.0, 3.1), (3.1, 3.0), (3.2, 2.55), (3.3, 2.55), (3.35, 2.9),
    (3.4, 3.4), (3.45, 3.55), (3.5, 3.9), (3.55, 3.6), (3.1, 2.85), (2.95, 3.15), (2.75, 2.85),
    (3.75, 5.1), (4.0, 4.7), (4.25, 5.0), (4.1, 6.24), (3.9, 3.3), (4.3, 3.6), (4.65, 4.4), (4.6, 4.8),
    (4.8, 4.7), (4.9, 4.85), (5.0, 5.2), (5.05, 3.97), (5.1, 5.1), (5.45, 6.3), (5.9, 5.7), (5.95, 5.85),
    (6.0, 6.08), (6.1, 5.8), (6.35, 6.15), (6.3, 5.95), (6.4, 5.52), (6.7, 6.49), (6.95, 7.1), (7.12, 7.1),
    (7.43, 7.35), (7.73, 7.26), (7.85, 7.25), (7.86, 7.68), (8.04, 7.73), (8.3, 7.8), (8.47, 8.0),
    (8.45, 7.8), (8.78, 8.12), (8.84, 8.29), (9.35, 8.42), (7.95, 7.5),
]
f_core = [
    (0.07, 0.2), (0.12, 0.45), (0.17, 0.05), (0.22, 0.35), (0.27, 0.55), (0.32, 0.25), (0.37, 0.5),
    (0.42, 0.35), (0.47, 0.15), (0.52, 0.5), (0.57, 0.3), (0.62, 0.6), (0.67, 0.4), (0.72, 0.2),
    (0.77, 0.5), (0.82, 0.3), (0.87, 0.2), (0.92, 0.45), (0.97, 0.35), (0.07, 0.85), (0.12, 1.2),
    (0.07, 1.4), (0.12, 1.0), (0.17, 0.75), (0.22, 0.95), (0.27, 0.7), (0.32, 0.9), (0.42, 0.75),
    (0.15, 0.6),
]

SERIES = [(a_zero_x, a_pts + a_core), (b_zero_x, b_pts + b_core), (c_zero_x, c_pts + c_core),
          (d_zero_x, d_pts + d_core), (e_zero_x, e_pts + e_core), (f_zero_x, f_pts + f_core)]

# ---------------- layout geometry ----------------
W, H = 1068, 823
COLS = [(68, 340), (427, 699), (785, 1057)]
ROWS = [(47, 349), (467, 768)]
FONT = "Liberation Sans, Arial, Helvetica, sans-serif"
TXT = "#303030"
AXC = "#8c8c8c"
FS = 19

fig = go.Figure()
layout = dict(width=W, height=H, margin=dict(l=0, r=0, t=0, b=0),
              paper_bgcolor="white", plot_bgcolor="white", showlegend=False,
              font=dict(family=FONT, size=FS, color=TXT))
annotations = []

for i, (title, letter, (zx, pts)) in enumerate(zip(TITLES, LETTERS, SERIES)):
    r, c = divmod(i, 3)
    x0, x1 = COLS[c]
    ytop, ybot = ROWS[r]
    n = i + 1
    xa = "x" if n == 1 else f"x{n}"
    ya = "y" if n == 1 else f"y{n}"
    xs = list(zx) + [p[0] for p in pts]
    ys = [0.0] * len(zx) + [p[1] for p in pts]
    fig.add_trace(go.Scatter(x=xs, y=ys, mode="markers", xaxis=xa, yaxis=ya, cliponaxis=False,
                             marker=dict(size=4, color="#101010", line=dict(width=0))))
    fig.add_trace(go.Scatter(x=ONE_TO_ONE, y=ONE_TO_ONE, mode="lines", xaxis=xa, yaxis=ya,
                             cliponaxis=False, line=dict(color="#101010", width=2.6)))
    axcommon = dict(range=[0, 10], tickvals=TICKS, ticktext=[str(t) for t in TICKS], ticks="inside",
                    ticklen=5, tickcolor=AXC, showline=True, linecolor=AXC, linewidth=1, mirror="ticks",
                    showgrid=False, zeroline=False, tickfont=dict(family=FONT, size=FS, color=TXT),
                    fixedrange=True, layer="below traces")
    layout["xaxis" if n == 1 else f"xaxis{n}"] = dict(axcommon, domain=[x0 / W, x1 / W], anchor=ya)
    layout["yaxis" if n == 1 else f"yaxis{n}"] = dict(axcommon, domain=[(H - ybot) / H, (H - ytop) / H],
                                                       anchor=xa)
    cx = (x0 + x1) / 2 / W
    annotations.append(dict(text=title, x=cx, y=(H - (ytop - 22)) / H, xref="paper", yref="paper",
                            showarrow=False, xanchor="center", yanchor="middle",
                            font=dict(family=FONT, size=FS, color=TXT)))
    annotations.append(dict(text="Melt reference (mm h<sup>-1</sup>)", x=cx, y=(H - (ybot + 44)) / H,
                            xref="paper", yref="paper", showarrow=False, xanchor="center",
                            yanchor="middle", font=dict(family=FONT, size=FS, color=TXT)))
    annotations.append(dict(text="Melt Model D (mm h<sup>-1</sup>)", x=(x0 - 41) / W,
                            y=(H - (ytop + ybot) / 2) / H, xref="paper", yref="paper", showarrow=False,
                            textangle=-90, xanchor="center", yanchor="middle",
                            font=dict(family=FONT, size=FS, color=TXT)))
    annotations.append(dict(text=letter, x=0.45, y=9.35, xref=xa, yref=ya, showarrow=False,
                            xanchor="left", yanchor="middle", font=dict(family=FONT, size=20, color=TXT)))

layout["annotations"] = annotations
fig.update_layout(**layout)
# remove the default 8px page margin so the figure starts at the window's top-left corner
fig.write_html("out.html", config={"displayModeBar": False, "staticPlot": True},
               post_script="document.body.style.margin='0px';")
